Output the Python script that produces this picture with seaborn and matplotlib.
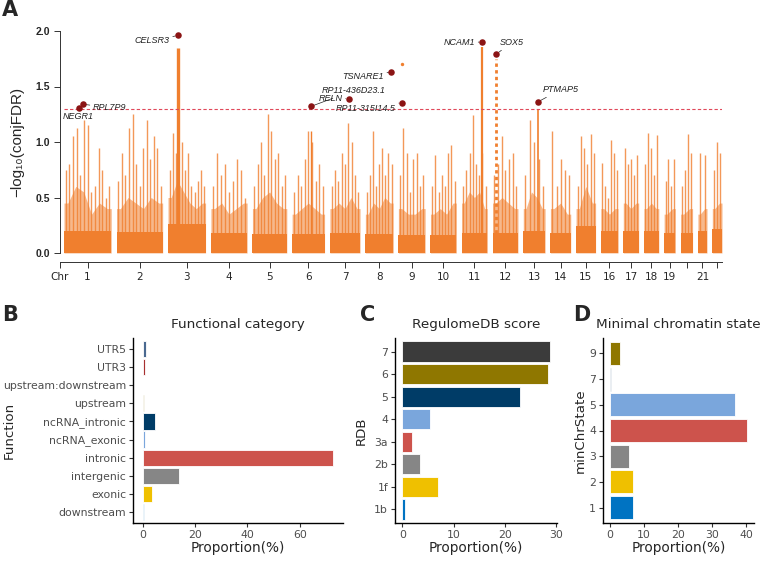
import numpy as np
import pandas as pd
import seaborn as sns
import matplotlib.pyplot as plt

# -------------------------------
# Panel A data (Manhattan, conjFDR)
# -------------------------------
CHROM_LEN = [249, 243, 198, 191, 181, 171, 159, 146, 141, 136, 135,
             134, 115, 107, 103, 90, 81, 78, 59, 63, 48, 51]
CHROM_LABEL = ['1', '2', '3', '4', '5', '6', '7', '8', '9', '10', '11',
               '12', '13', '14', '15', '16', '17', '18', '19', '', '21', '']
# solid block top per chromosome
BASE = [0.2, 0.19, 0.26, 0.18, 0.17, 0.17, 0.18, 0.17, 0.16, 0.16, 0.18,
        0.18, 0.2, 0.18, 0.24, 0.2, 0.2, 0.2, 0.18, 0.18, 0.2, 0.22]
# top of the dense band along each chromosome
MID = [
    [0.45, 0.6, 0.55, 0.35, 0.45, 0.4],
    [0.4, 0.5, 0.45, 0.4, 0.5, 0.45],
    [0.5, 0.65, 0.55, 0.45, 0.4, 0.45],
    [0.4, 0.45, 0.35, 0.4, 0.45],
    [0.4, 0.5, 0.55, 0.45, 0.4],
    [0.35, 0.4, 0.45, 0.4, 0.35],
    [0.4, 0.45, 0.4, 0.5, 0.4],
    [0.35, 0.45, 0.4, 0.5, 0.45],
    [0.4, 0.35, 0.35, 0.4],
    [0.35, 0.4, 0.35, 0.45],
    [0.45, 0.55, 0.5, 0.55, 0.4],
    [0.45, 0.5, 0.45, 0.4],
    [0.4, 0.55, 0.5, 0.4],
    [0.4, 0.45, 0.35],
    [0.4, 0.6, 0.45],
    [0.4, 0.35, 0.4],
    [0.45, 0.4, 0.45],
    [0.4, 0.45, 0.4],
    [0.35, 0.4],
    [0.35, 0.4],
    [0.35, 0.4],
    [0.4, 0.45],
]
# local peak heights along each chromosome (left to right)
SPIKES = [
    [0.75, 0.8, 1.05, 1.13, 0.7, 1.2, 1.15, 0.55, 0.6, 0.95, 0.75, 0.5, 0.6],
    [0.65, 0.9, 0.7, 1.13, 1.25, 0.8, 0.6, 0.95, 1.2, 0.85, 1.05, 0.95, 0.6],
    [0.75, 1.08, 0.9, 0.6, 1.0, 0.75, 0.9, 0.6, 0.55, 0.65, 0.75, 0.6],
    [0.6, 0.9, 0.7, 0.8, 0.55, 0.65, 0.85, 0.75, 0.5],
    [0.6, 0.8, 1.0, 0.7, 1.25, 1.1, 0.85, 0.9, 0.6, 0.7],
    [0.55, 0.7, 0.6, 0.85, 1.1, 1.0, 0.65, 0.8, 0.6],
    [0.6, 0.75, 0.65, 0.9, 0.8, 1.17, 1.0, 0.7, 0.55],
    [0.55, 0.7, 1.1, 0.6, 0.8, 0.95, 0.7, 0.9, 0.8],
    [0.7, 1.13, 0.9, 0.55, 0.85, 0.9, 0.6, 0.7],
    [0.6, 0.88, 0.55, 0.7, 0.6, 0.9, 0.97, 0.65],
    [0.6, 0.75, 0.9, 1.24, 0.8, 0.7, 0.9, 0.6],
    [0.7, 0.8, 1.05, 0.75, 0.85, 0.9, 0.6],
    [0.7, 1.2, 1.0, 0.85, 0.6],
    [1.1, 0.6, 0.85, 0.75, 0.7],
    [0.6, 1.05, 0.95, 0.8, 1.07, 0.9],
    [0.81, 0.6, 0.5, 1.02, 0.9, 0.75],
    [0.95, 0.8, 0.85, 0.7, 0.88],
    [0.8, 1.08, 0.95, 0.7, 1.06],
    [0.65, 0.85, 0.6, 0.85],
    [0.6, 0.75, 1.07, 0.9],
    [0.9, 0.88],
    [0.75, 1.0, 0.9],
]
# columns of significant SNPs under the labelled loci
PEAK_CHR = [3, 11, 12, 13, 6]
PEAK_POS = [52, 107, 19, 76, 98]
PEAK_TOP = [1.85, 1.86, 1.75, 1.30, 1.10]
# lone point on chr9
EXTRA_CHR = [9]
EXTRA_POS = [20]
EXTRA_P = [1.70]
# lead SNPs
LEAD_GENE = ['NEGR1', 'RPL7P9', 'CELSR3', 'RP11-436D23.1', 'RELN', 'TSNARE1',
             'RP11-315I14.5', 'NCAM1', 'SOX5', 'PTMAP5']
LEAD_CHR = [1, 1, 3, 6, 7, 8, 9, 11, 12, 13]
LEAD_POS = [77, 102, 52, 98, 99, 137, 18, 107, 19, 76]
LEAD_P = [1.31, 1.34, 1.96, 1.32, 1.39, 1.63, 1.355, 1.90, 1.79, 1.36]

# -------------------------------
# Panels B-D data
# -------------------------------
FUNC_CAT = ['UTR5', 'UTR3', 'upstream:downstream', 'upstream', 'ncRNA_intronic',
            'ncRNA_exonic', 'intronic', 'intergenic', 'exonic', 'downstream']
FUNC_PROP = [1.5, 1.1, 0.35, 0.7, 4.7, 1.1, 72.8, 13.9, 3.7, 0.6]
RDB_CAT = ['7', '6', '5', '4', '3a', '2b', '1f', '1b']
RDB_PROP = [28.8, 28.5, 23.1, 5.5, 1.8, 3.4, 7.0, 0.6]
CHR_STATE = ['9', '7', '5', '4', '3', '2', '1']
CHR_PROP = [2.9, 0.3, 36.8, 40.3, 5.6, 6.8, 6.8]

JCO = ['#0073C2', '#EFC000', '#868686', '#CD534C', '#7AA6DC',
       '#003C67', '#8F7700', '#3B3B3B', '#A73030', '#4A6990']

ORANGE = '#F07F2E'
GAP = 28
SANS = ['Liberation Sans', 'DejaVu Sans']

sns.set_theme(style='ticks')
plt.rcParams['font.family'] = ['DejaVu Sans']

fig = plt.figure(figsize=(7.63, 5.61), dpi=100)
W, H = 763, 561

def px_axes(l, t, r, b):
    return fig.add_axes([l / W, 1 - b / H, (r - l) / W, (b - t) / H])

# -------------------------------
# A: Manhattan
# -------------------------------
ax = px_axes(60, 31, 722, 253)
starts = np.concatenate([[0], np.cumsum(np.array(CHROM_LEN) + GAP)[:-1]])
centers = starts + np.array(CHROM_LEN) / 2

for i, L in enumerate(CHROM_LEN):
    s = starts[i]
    m = MID[i]
    mx = s + L * (np.arange(len(m)) + 0.5) / len(m)
    ax.fill_between(np.r_[s, mx, s + L], 0, np.r_[m[0], m, m[-1]],
                    color=ORANGE, alpha=0.55, lw=0)
    ax.bar(s, BASE[i], width=L, align='edge', color=ORANGE, lw=0)
    h = SPIKES[i]
    xs = s + L * (np.arange(len(h)) + 0.5) / len(h)
    ax.vlines(xs, 0, h, color=ORANGE, lw=1.0, alpha=0.8)

peak_x = [starts[c - 1] + p for c, p in zip(PEAK_CHR, PEAK_POS)]
PEAK_LS = ['-', '-', (0, (1.2, 1.2)), '-', '-']
PEAK_LW = [2.4, 1.6, 2.0, 1.2, 1.0]
for x, top, ls, lw in zip(peak_x, PEAK_TOP, PEAK_LS, PEAK_LW):
    ax.vlines(x, 0, top, color=ORANGE, lw=lw, linestyles=[ls])

extra = pd.DataFrame({'x': [starts[c - 1] + p for c, p in zip(EXTRA_CHR, EXTRA_POS)],
                      'p': EXTRA_P})
sns.scatterplot(data=extra, x='x', y='p', color=ORANGE, s=6, linewidth=0, ax=ax)

end = starts[-1] + CHROM_LEN[-1]
ax.hlines(-np.log10(0.05), 0, end, color='#E0485A', lw=0.8, linestyles=[(0, (3, 2))])

lead = pd.DataFrame({'gene': LEAD_GENE,
                     'x': [starts[c - 1] + p for c, p in zip(LEAD_CHR, LEAD_POS)],
                     'p': LEAD_P})
sns.scatterplot(data=lead, x='x', y='p', color='#8B1414', s=22, linewidth=0,
                ax=ax, zorder=5, clip_on=False)

# label offsets in points
DX = [-0.5, 7, -6, 8, -4.5, -5.5, -4.5, -5, 2.5, 3.5]
DY = [-6.5, -2.5, -4, 11.5, 0, -3, -4.5, 0, 8.5, 9]
HA = ['center', 'left', 'right', 'left', 'right', 'right', 'right', 'right', 'left', 'left']
for g, x, p, dx, dy, ha in zip(lead['gene'], lead['x'], lead['p'], DX, DY, HA):
    ax.annotate(g, xy=(x, p), xytext=(dx, dy), textcoords='offset points',
                ha=ha, va='center', fontsize=6.5, style='italic',
                family=SANS, color='#222222',
                arrowprops=dict(arrowstyle='-', lw=0.5, color='#222222',
                                shrinkA=0, shrinkB=2))

ax.set_xlim(-21, end)
ax.set_ylim(0, 2.0)
ax.set_yticks([0, 0.5, 1.0, 1.5, 2.0])
ax.set_yticklabels(['0.0', '0.5', '1.0', '1.5', '2.0'])
ax.set_xticks([-21] + list(centers))
ax.set_xticklabels(['Chr'] + CHROM_LABEL)
for lbl in ax.get_xticklabels() + ax.get_yticklabels():
    lbl.set_fontweight('bold')
    lbl.set_family(SANS)
ax.tick_params(labelsize=7.5, length=4, width=0.7, color='#333333', pad=3)
ax.set_xlabel('')
ax.set_ylabel('\u2212log\u2081\u2080(conjFDR)', fontsize=11, family=SANS, labelpad=8)
sns.despine(ax=ax)
ax.spines['left'].set_bounds(0, 2.0)
ax.spines['bottom'].set_bounds(-21, end)
ax.spines['bottom'].set_position(('outward', 6.5))
for sp in ['left', 'bottom']:
    ax.spines[sp].set_linewidth(0.7)
    ax.spines[sp].set_color('#333333')

# -------------------------------
# B-D: bar panels
# -------------------------------
def bar_panel(box, cats, props, levels, title, ylab, xticks, ylab_x):
    a = px_axes(*box)
    pal = dict(zip(levels, JCO))
    df = pd.DataFrame({'cat': cats, 'prop': props})
    sns.barplot(data=df, x='prop', y='cat', order=cats, hue='cat', palette=pal,
                legend=False, orient='h', width=0.9, saturation=1,
                edgecolor='white', linewidth=0.6, ax=a)
    mx = max(props)
    a.set_xlim(-0.05 * mx, 1.05 * mx)
    a.set_ylim(len(cats) - 1 + 0.6, -0.6)
    a.set_xticks(xticks)
    a.set_title(title, fontsize=9.7, pad=7)
    a.set_xlabel('Proportion(%)', fontsize=9.8, labelpad=1)
    a.set_ylabel(ylab, fontsize=9.6)
    a.yaxis.set_label_coords((ylab_x - box[0]) / (box[2] - box[0]), 0.5)
    a.tick_params(labelsize=7.8, labelcolor='#4D4D4D', color='#333333',
                  length=3, width=0.8, pad=2)
    sns.despine(ax=a)
    for sp in ['left', 'bottom']:
        a.spines[sp].set_linewidth(1.0)
        a.spines[sp].set_color('black')
    return a

bar_panel((133, 338, 343, 523), FUNC_CAT, FUNC_PROP, FUNC_CAT[::-1],
          'Functional category', 'Function', [0, 20, 40, 60], 16)
bar_panel((395, 338, 557, 523), RDB_CAT, RDB_PROP, RDB_CAT[::-1],
          'RegulomeDB score', 'RDB', [0, 10, 20, 30], 368)
bar_panel((603, 338, 754, 523), CHR_STATE, CHR_PROP, CHR_STATE[::-1],
          'Minimal chromatin state', 'minChrState', [0, 10, 20, 30, 40], 587)

for letter, x, y in [('A', 2, 10), ('B', 2, 315), ('C', 360, 315), ('D', 573, 315)]:
    fig.text(x / W, 1 - y / H, letter, fontsize=15, fontweight='bold', va='center')

fig.savefig('out.png', dpi=100)
